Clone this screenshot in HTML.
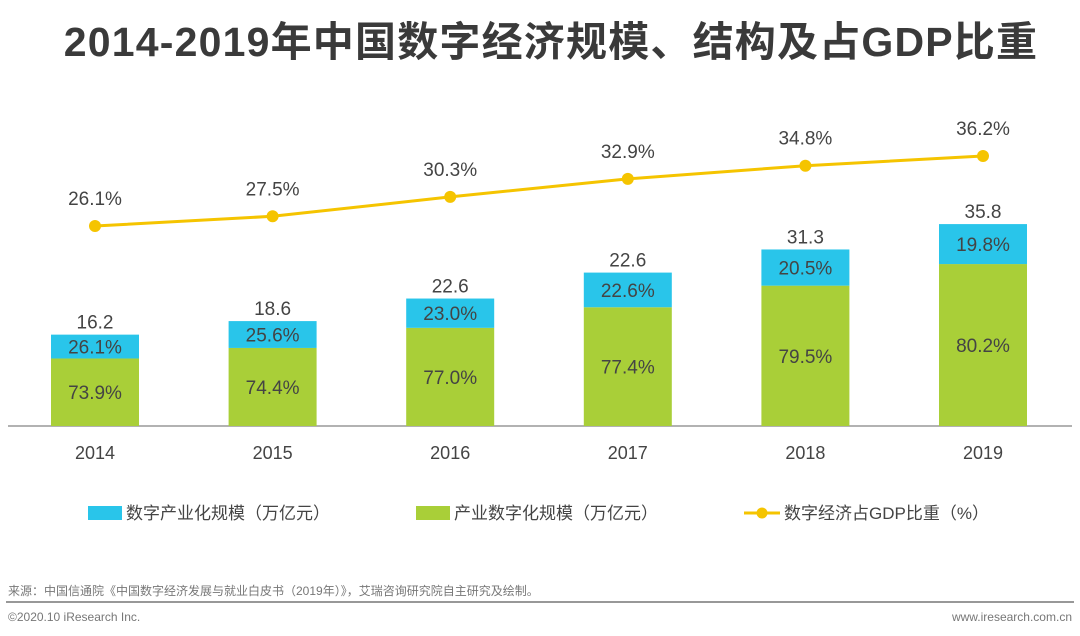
<!DOCTYPE html>
<html><head><meta charset="utf-8"><style>
body{margin:0;background:#fff;}
svg{display:block;font-family:"Liberation Sans","Noto Sans CJK SC",sans-serif;}
</style></head><body>
<svg id="c" width="1080" height="636" viewBox="0 0 1080 636">
<text x="551" y="56" text-anchor="middle" font-size="41" font-weight="bold" letter-spacing="1.2" fill="#3a3a3a">2014-2019年中国数字经济规模、结构及占GDP比重</text>
<line x1="8" y1="426" x2="1072" y2="426" stroke="#999" stroke-width="1.5"/>
<g id="bars"></g><g id="line"></g>
<g font-size="17" fill="#444">
<rect x="88" y="506" width="34" height="14" fill="#29C5EA"/>
<text x="126" y="519">数字产业化规模（万亿元）</text>
<rect x="416" y="506" width="34" height="14" fill="#A9CF38"/>
<text x="454" y="519">产业数字化规模（万亿元）</text>
<line x1="744" y1="513" x2="780" y2="513" stroke="#F5C400" stroke-width="3"/>
<circle cx="762" cy="513" r="5.5" fill="#F5C400"/>
<text x="784" y="519">数字经济占GDP比重（%）</text>
</g>
<text x="8" y="595" font-size="12" fill="#777">来源：中国信通院《中国数字经济发展与就业白皮书（2019年）》，艾瑞咨询研究院自主研究及绘制。</text>
<line x1="6" y1="602" x2="1074" y2="602" stroke="#777" stroke-width="1.5"/>
<text x="8" y="621" font-size="12" fill="#777">©2020.10 iResearch Inc.</text>
<text x="1072" y="621" font-size="12" fill="#777" text-anchor="end">www.iresearch.com.cn</text>
</svg>
<script>
const years=["2014","2015","2016","2017","2018","2019"];
const totals=[16.2,18.6,22.6,27.2,31.3,35.8];
const totalLabels=["16.2","18.6","22.6","22.6","31.3","35.8"];
const digitalPct=[26.1,25.6,23.0,22.6,20.5,19.8];
const industryPct=[73.9,74.4,77.0,77.4,79.5,80.2];
const gdpShare=[26.1,27.5,30.3,32.9,34.8,36.2];

const NS="http://www.w3.org/2000/svg";
const xC=i=>95+i*177.6;
const yBar=v=>426-v*5.64;
const yLine=v=>226-(v-26.1)*6.93;
const bw=88;
function mk(t,a,p){const e=document.createElementNS(NS,t);for(const k in a)e.setAttribute(k,a[k]);p.appendChild(e);return e;}
const gb=document.getElementById('bars'),gl=document.getElementById('line');
years.forEach((y,i)=>{
  const x=xC(i),tot=totals[i];
  const gH=tot*industryPct[i]/100;
  const gTop=yBar(gH),top=yBar(tot);
  const g=mk('rect',{x:x-bw/2,y:gTop,width:bw,height:426-gTop,fill:'#A9CF38'},gb);
  
  
  const c=mk('rect',{x:x-bw/2,y:top,width:bw,height:gTop-top,fill:'#29C5EA'},gb);
  
  
  const t1=mk('text',{x:x,y:(gTop+426)/2+7,'text-anchor':'middle','font-size':19,fill:'#444'},gb);t1.textContent=industryPct[i].toFixed(1)+'%';
  
  
  const t2=mk('text',{x:x,y:(gTop+top)/2+7,'text-anchor':'middle','font-size':19,fill:'#444'},gb);t2.textContent=digitalPct[i].toFixed(1)+'%';
  
  
  const t3=mk('text',{x:x,y:top-6,'text-anchor':'middle','font-size':19,fill:'#444'},gb);t3.textContent=totalLabels[i];
  
  
  const t4=mk('text',{x:x,y:459,'text-anchor':'middle','font-size':18,fill:'#444'},gb);t4.textContent=y;
  
  
});
const pl=mk('polyline',{points:gdpShare.map((v,i)=>xC(i)+','+yLine(v)).join(' '),fill:'none',stroke:'#F5C400','stroke-width':3},gl);


gdpShare.forEach((v,i)=>{
  const c=mk('circle',{cx:xC(i),cy:yLine(v),r:6,fill:'#F5C400'},gl);
  
  
  const t=mk('text',{x:xC(i),y:yLine(v)-21,'text-anchor':'middle','font-size':19,fill:'#444'},gl);t.textContent=v.toFixed(1)+'%';
  
  
});
</script>
</body></html>
